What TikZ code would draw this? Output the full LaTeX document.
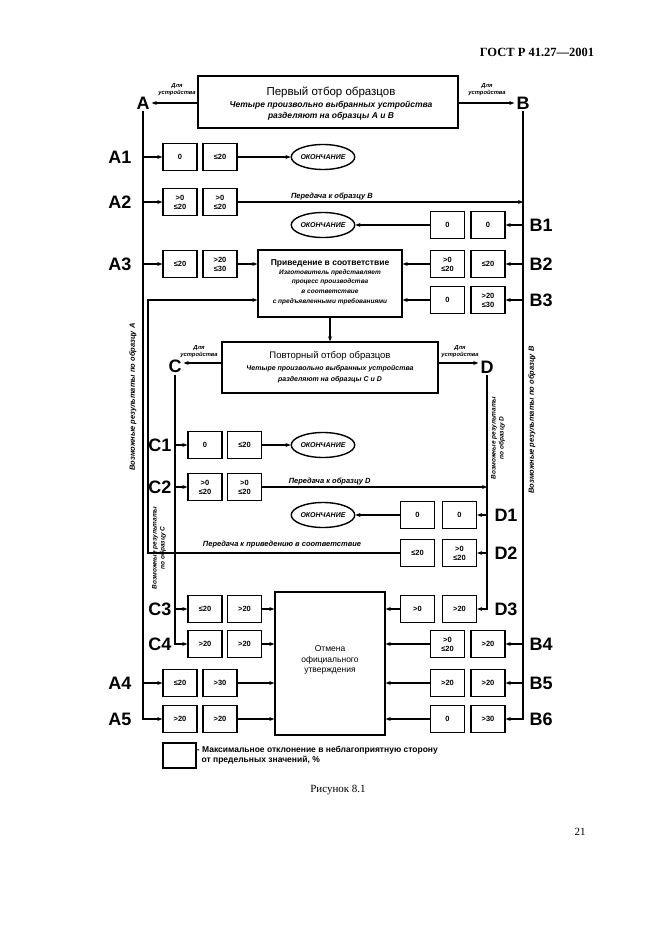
\documentclass[tikz,border=0pt]{standalone}
\usepackage{fontspec}
\setmainfont{Liberation Sans}
\newfontfamily\serifrm{Liberation Serif}
\usetikzlibrary{arrows.meta,shapes.geometric}
\newcommand\myfs[2]{\fontsize{#1}{#2}\selectfont}
\tikzset{
 ln/.style={line width=1.3pt},
 arr/.style={line width=1.4pt,-{Stealth[length=5pt,width=4pt]}},
 vbox/.style={draw,line width=1.4pt,minimum width=34pt,minimum height=27pt,inner sep=0pt,align=center,font=\bfseries\myfs{7.5}{9}},
 lbl/.style={inner sep=2pt,font=\bfseries\myfs{18}{18}},
 endnode/.style={ellipse,draw,line width=1.4pt,minimum width=63pt,minimum height=25pt,inner sep=0pt,font=\bfseries\itshape\myfs{7}{7}},
 note/.style={inner sep=0pt,align=center,font=\bfseries\itshape\myfs{5.8}{7}},
 bigbox/.style={draw,line width=1.4pt,inner sep=0pt,align=center},
 vtext/.style={rotate=90,inner sep=0pt,align=center,font=\bfseries\itshape\myfs{7.5}{9}},
}
\begin{document}
\begin{tikzpicture}[x=1pt,y=-1pt]
\useasboundingbox (0,0) rectangle (661,936);
\fill[white] (0,0) rectangle (661,936);

% header, caption, page number
\node[inner sep=0pt,font=\serifrm\bfseries\myfs{12.5}{12.5}] (hdr) at (537,52) {ГОСТ Р 41.27—2001};
\node[inner sep=0pt,font=\serifrm\myfs{11}{11}] (cap) at (338,790) {Рисунок 8.1};
\node[inner sep=0pt,font=\serifrm\myfs{11}{11}] (pg) at (580,832) {21};

% first sampling box
\node[bigbox,minimum width=260pt,minimum height=52pt] (top) at (328,102) {};
\node[inner sep=0pt,font=\myfs{11.5}{11.5}] (topt) at (331,92) {Первый отбор образцов};
\node[inner sep=0pt,align=center,font=\bfseries\itshape\myfs{8.5}{11}] (tops) at (331,111) {Четыре произвольно выбранных устройства\\разделяют на образцы A и B};
\node[lbl] (lA) at (143,103) {A};
\node[lbl] (lB) at (523,103) {B};
\node[note] (dA) at (177,90) {Для\\устройства};
\node[note] (dB) at (487,90) {Для\\устройства};
\draw[arr] (top.west |- lA) -- (lA.east);
\draw[arr] (top.east |- lB) -- (lB.west);

% row labels A, B
\node[lbl] (lA1) at (120,157) {A1};
\node[lbl] (lA2) at (120,202) {A2};
\node[lbl] (lA3) at (120,264) {A3};
\node[lbl] (lA4) at (120,683) {A4};
\node[lbl] (lA5) at (120,719) {A5};
\node[lbl] (lB1) at (541,225) {B1};
\node[lbl] (lB2) at (541,264) {B2};
\node[lbl] (lB3) at (541,300) {B3};
\node[lbl] (lB4) at (541,644) {B4};
\node[lbl] (lB5) at (541,683) {B5};
\node[lbl] (lB6) at (541,719) {B6};

% A boxes
\node[vbox] (a1b1) at (180,157) {0};
\node[vbox] (a1b2) at (220,157) {≤20};
\node[vbox] (a2b1) at (180,202) {>0\\≤20};
\node[vbox] (a2b2) at (220,202) {>0\\≤20};
\node[vbox] (a3b1) at (180,264) {≤20};
\node[vbox] (a3b2) at (220,264) {>20\\≤30};
\node[vbox] (a4b1) at (180,683) {≤20};
\node[vbox] (a4b2) at (220,683) {>30};
\node[vbox] (a5b1) at (180,719) {>20};
\node[vbox] (a5b2) at (220,719) {>20};
% B boxes
\node[vbox] (b1b1) at (447.5,225) {0};
\node[vbox] (b1b2) at (488,225) {0};
\node[vbox] (b2b1) at (447.5,264) {>0\\≤20};
\node[vbox] (b2b2) at (488,264) {≤20};
\node[vbox] (b3b1) at (447.5,300) {0};
\node[vbox] (b3b2) at (488,300) {>20\\≤30};
\node[vbox] (b4b1) at (447.5,644) {>0\\≤20};
\node[vbox] (b4b2) at (488,644) {>20};
\node[vbox] (b5b1) at (447.5,683) {>20};
\node[vbox] (b5b2) at (488,683) {>20};
\node[vbox] (b6b1) at (447.5,719) {0};
\node[vbox] (b6b2) at (488,719) {>30};

% end ellipses
\node[endnode] (e1) at (323,157) {ОКОНЧАНИЕ};
\node[endnode] (e2) at (323,225) {ОКОНЧАНИЕ};
\node[endnode] (e3) at (323,445) {ОКОНЧАНИЕ};
\node[endnode] (e4) at (323,515) {ОКОНЧАНИЕ};

% alignment box
\node[bigbox,minimum width=144pt,minimum height=67pt] (priv) at (330,283.5) {};
\node[inner sep=0pt,align=center,font=\bfseries\myfs{8.5}{9}] (privt) at (330,263) {Приведение в соответствие};
\node[inner sep=0pt,align=center,font=\bfseries\itshape\myfs{6.5}{9.6}] (privs) at (330,287) {Изготовитель представляет\\процесс производства\\в соответствие\\с предъявленными требованиями};

% second sampling box
\node[bigbox,minimum width=216pt,minimum height=51pt] (rep) at (330,367.5) {};
\node[inner sep=0pt,font=\myfs{9.5}{9.5}] (rept) at (330,356) {Повторный отбор образцов};
\node[inner sep=0pt,align=center,font=\bfseries\itshape\myfs{7}{10.5}] (reps) at (330,374) {Четыре произвольно выбранных устройства\\разделяют на образцы C и D};
\node[lbl] (lC) at (175,366) {C};
\node[lbl] (lD) at (487,367) {D};
\node[note] (dC) at (199,352) {Для\\устройства};
\node[note] (dD) at (460,352) {Для\\устройства};
\draw[arr] (rep.west |- 0,363) -- (lC.east |- 0,363);
\draw[arr] (rep.east |- 0,363) -- (lD.west |- 0,363);

% C, D labels
\node[lbl] (lC1) at (160,445) {C1};
\node[lbl] (lC2) at (160,487) {C2};
\node[lbl] (lC3) at (160,609) {C3};
\node[lbl] (lC4) at (160,644) {C4};
\node[lbl] (lD1) at (506,515) {D1};
\node[lbl] (lD2) at (506,553) {D2};
\node[lbl] (lD3) at (506,609) {D3};

% C boxes
\node[vbox] (c1b1) at (205,445) {0};
\node[vbox] (c1b2) at (244.5,445) {≤20};
\node[vbox] (c2b1) at (205,487) {>0\\≤20};
\node[vbox] (c2b2) at (244.5,487) {>0\\≤20};
\node[vbox] (c3b1) at (205,609) {≤20};
\node[vbox] (c3b2) at (244.5,609) {>20};
\node[vbox] (c4b1) at (205,644) {>20};
\node[vbox] (c4b2) at (244.5,644) {>20};
% D boxes
\node[vbox] (d1b1) at (417.5,515) {0};
\node[vbox] (d1b2) at (459.5,515) {0};
\node[vbox] (d2b1) at (417.5,553) {≤20};
\node[vbox] (d2b2) at (459.5,553) {>0\\≤20};
\node[vbox] (d3b1) at (417.5,609) {>0};
\node[vbox] (d3b2) at (459.5,609) {>20};

% cancellation box
\node[bigbox,minimum width=110pt,minimum height=143pt] (cancel) at (330,663.5) {};
\node[inner sep=0pt,align=center,font=\myfs{8.5}{10.5}] (cancelt) at (330,660) {Отмена\\официального\\утверждения};

% main vertical lines
\draw[arr] (lA.south) |- (a5b1.west);
\draw[arr] (lB.south) |- (b6b2.east);
\draw[arr] (lC.south) |- (c4b1.west);
\draw[arr] (lD.south) |- (d3b2.east);

% A branches
\draw[arr] (a1b1.west -| lA) -- (a1b1.west);
\draw[arr] (a2b1.west -| lA) -- (a2b1.west);
\draw[arr] (a3b1.west -| lA) -- (a3b1.west);
\draw[arr] (a4b1.west -| lA) -- (a4b1.west);
% B branches
\draw[arr] (b1b2.east -| lB) -- (b1b2.east);
\draw[arr] (b2b2.east -| lB) -- (b2b2.east);
\draw[arr] (b3b2.east -| lB) -- (b3b2.east);
\draw[arr] (b4b2.east -| lB) -- (b4b2.east);
\draw[arr] (b5b2.east -| lB) -- (b5b2.east);
% C branches
\draw[arr] (c1b1.west -| lC) -- (c1b1.west);
\draw[arr] (c2b1.west -| lC) -- (c2b1.west);
\draw[arr] (c3b1.west -| lC) -- (c3b1.west);
% D branches
\draw[arr] (d1b2.east -| lD) -- (d1b2.east);
\draw[arr] (d2b2.east -| lD) -- (d2b2.east);

% to ends
\draw[arr] (a1b2.east) -- (e1.west);
\draw[arr] (b1b1.west) -- (e2.east);
\draw[arr] (c1b2.east) -- (e3.west);
\draw[arr] (d1b1.west) -- (e4.east);

% transfers
\draw[arr] (a2b2.east) -- (a2b2.east -| lB) node[pos=0.33,above=1pt,inner sep=0pt,font=\bfseries\itshape\myfs{7.5}{7.5}] (tAB) {Передача к образцу B};
\draw[arr] (c2b2.east) -- (c2b2.east -| lD) node[pos=0.3,above=1pt,inner sep=0pt,font=\bfseries\itshape\myfs{7.5}{7.5}] (tCD) {Передача к образцу D};

% to alignment
\draw[arr] (a3b2.east) -- (a3b2.east -| priv.west);
\draw[arr] (b2b1.west) -- (b2b1.west -| priv.east);
\draw[arr] (b3b1.west) -- (b3b1.west -| priv.east);
\coordinate (brk) at (148,300);
\draw[arr] (d2b1.west) -| (brk) -- (brk -| priv.west);
\node[inner sep=0pt,font=\bfseries\itshape\myfs{7.5}{7.5}] (tD2) at (282,545) {Передача к приведению в соответствие};
\draw[arr] (priv.south) -- (rep.north);

% to cancellation
\draw[arr] (c3b2.east) -- (c3b2.east -| cancel.west);
\draw[arr] (c4b2.east) -- (c4b2.east -| cancel.west);
\draw[arr] (a4b2.east) -- (a4b2.east -| cancel.west);
\draw[arr] (a5b2.east) -- (a5b2.east -| cancel.west);
\draw[arr] (d3b1.west) -- (d3b1.west -| cancel.east);
\draw[arr] (b4b1.west) -- (b4b1.west -| cancel.east);
\draw[arr] (b5b1.west) -- (b5b1.west -| cancel.east);
\draw[arr] (b6b1.west) -- (b6b1.west -| cancel.east);

% vertical notes
\node[vtext] (vA) at (133,397) {Возможные результаты по образцу A};
\node[vtext] (vB) at (532,420) {Возможные результаты по образцу B};
\node[vtext,font=\bfseries\itshape\myfs{6.5}{8}] (vC) at (159,548) {Возможные результаты\\по образцу C};
\node[vtext,font=\bfseries\itshape\myfs{6.5}{8}] (vD) at (498,438) {Возможные результаты\\по образцу D};

% legend
\node[draw,line width=1.4pt,minimum width=33pt,minimum height=25pt,inner sep=0pt] (leg) at (179.5,755.5) {};
\node[anchor=west,inner sep=0pt,align=left,font=\bfseries\myfs{8.5}{10}] (legt) at (leg.east) {- Максимальное отклонение в неблагоприятную сторону\\\ \ от предельных значений, \%};
\end{tikzpicture}
\end{document}
